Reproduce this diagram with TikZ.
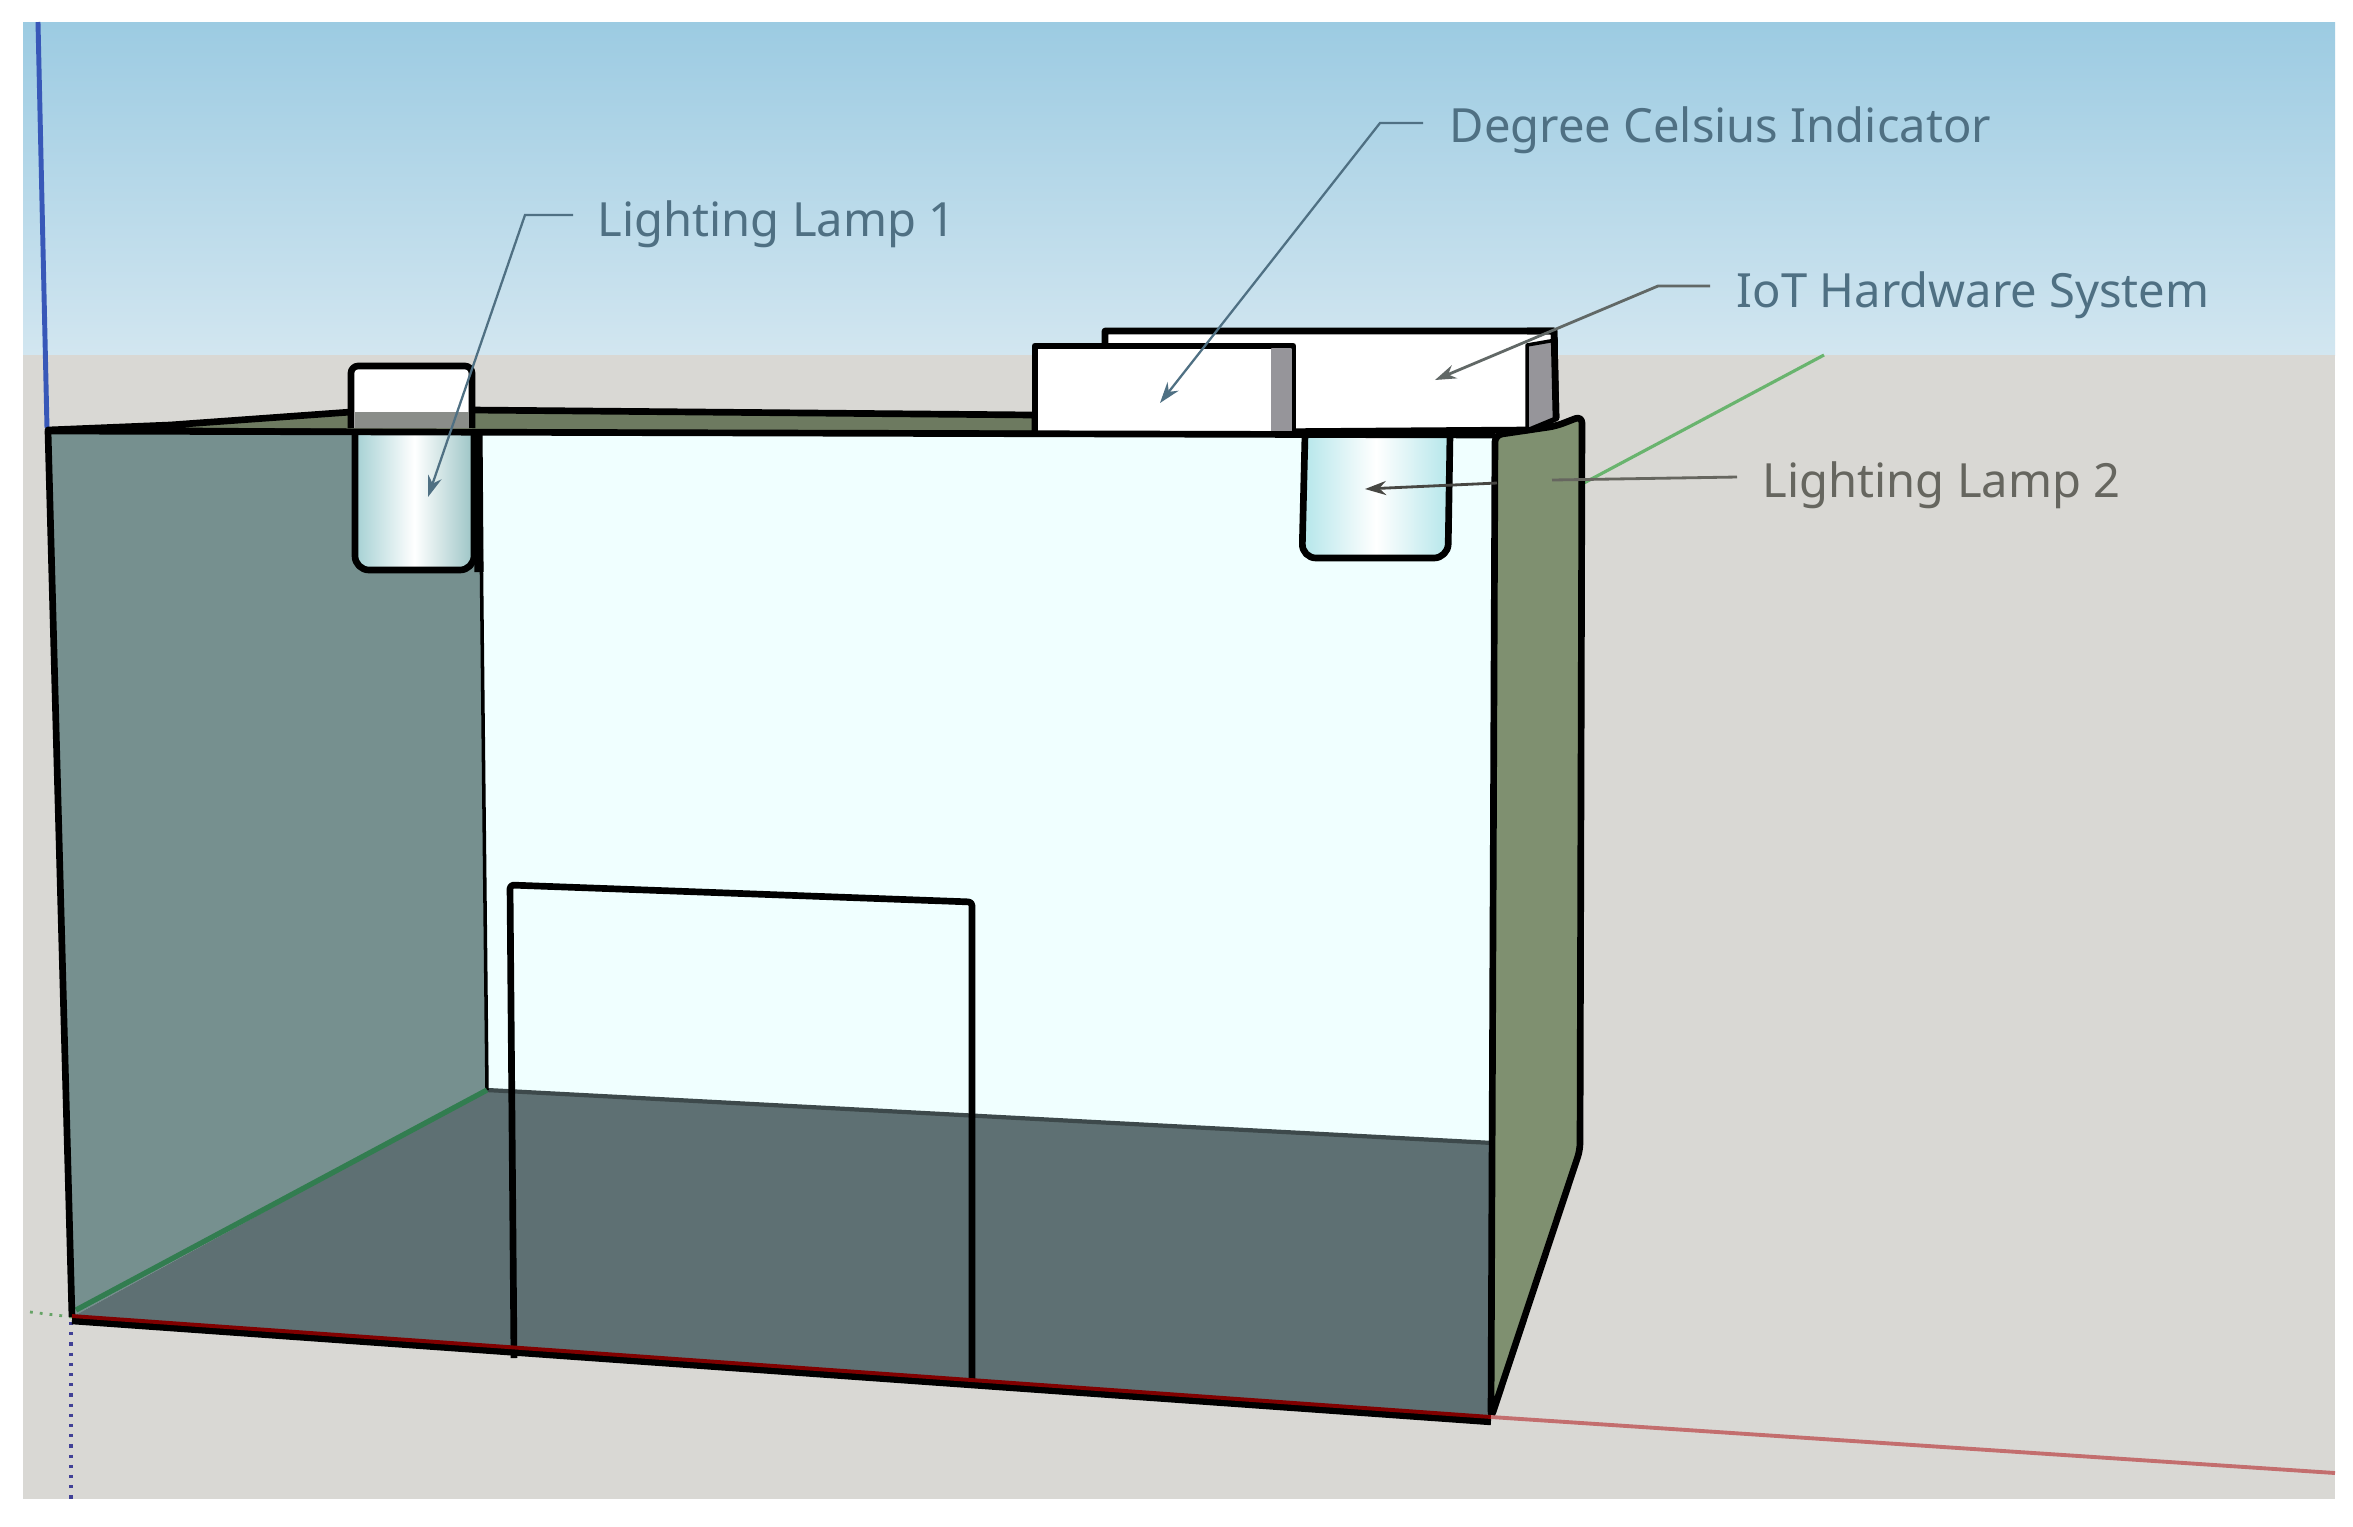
\documentclass[tikz,border=0pt]{standalone}
\usepackage{fontspec}
\setmainfont{Noto Sans}
\usetikzlibrary{arrows.meta,calc}
\definecolor{skytop}{HTML}{9CCBE2}
\definecolor{skylow}{HTML}{D2E6F0}
\definecolor{groundc}{HTML}{D9D8D4}
\definecolor{sidec}{HTML}{76908F}
\definecolor{wallc}{HTML}{F0FFFF}
\definecolor{floorc}{HTML}{5E7073}
\definecolor{olivec}{HTML}{7F9070}
\definecolor{stripc}{HTML}{6D7A60}
\definecolor{lampc}{HTML}{B4E6EA}
\definecolor{greyc}{HTML}{96959A}
\definecolor{skytext}{HTML}{4F7083}
\definecolor{groundtext}{HTML}{66665F}
\tikzset{
  edge/.style={draw=black,line width=1.9pt,line join=round},
  lbl/.style={anchor=west,inner sep=0pt,font=\fontsize{13.4}{16}\selectfont},
  leader/.style={line width=0.65pt,draw=skytext},
  tip/.style={-{Stealth[length=6pt,width=4pt]}}
}
\begin{document}
\begin{tikzpicture}[x=0.01cm,y=-0.01cm]
  \useasboundingbox (0,0) rectangle (2353,1526);
  \fill[white] (0,0) rectangle (2353,1526);
  % background
  \shade[top color=skytop,bottom color=skylow] (23,22) rectangle (2335,355);
  \fill[groundc] (23,355) rectangle (2335,1499);
  \draw[color={rgb,255:red,56;green,88;blue,184},line width=1.4pt] (38,22) -- (47,428);
  \draw[color={rgb,255:red,105;green,180;blue,110},line width=0.9pt] (1582,484) -- (1824,355);
  \draw[blue!45!black!75,line width=0.9pt,dotted] (71,1322) -- (71,1499);
  \draw[green!40!black!60,line width=0.8pt,dotted] (30,1312) -- (72,1317);
  % top of the box
  \filldraw[edge,fill=stripc] (48,430) -- (170,425) -- (351,412) -- (472,410) -- (1035,415)
    -- (1035,434) -- (480,433) -- cycle;
  % lamp 1, upper part
  \filldraw[edge,fill=white,rounded corners=2pt] (351,428) -- (351,366) -- (472,366) -- (472,428);
  \fill[greyc!70!stripc] (355,412) rectangle (469,428);
  % walls
  \fill[sidec] (48,431) -- (480,433) -- (487,1090) -- (72,1317) -- cycle;
  \fill[wallc] (480,433) -- (1495,435) -- (1493,1143) -- (487,1090) -- cycle;
  \fill[floorc] (487,1090) -- (1493,1143) -- (1491,1418) -- (72,1317) -- cycle;
  \draw[line width=1.2pt,draw=floorc!65!black] (487,1090) -- (1493,1143);
  \draw[edge,line width=1pt] (480,433) -- (487,1090);
  \draw[color={rgb,255:red,50;green,125;blue,80},line width=1.5pt] (76,1310) -- (487,1090);
  \filldraw[edge,fill=olivec,rounded corners=2pt] (1495,435) -- (1556,426) -- (1582,416) -- (1580,1150)
    -- (1491,1418) -- cycle;
  % lamps
  \filldraw[edge,left color=lampc!75!sidec,right color=lampc!60!sidec,middle color=white,rounded corners=4pt]
    (355,435) -- (355,570) -- (474,570) -- (474,435);
  \draw[edge,line width=2.6pt] (478,433) -- (479,572);
  \filldraw[edge,left color=lampc,right color=lampc,middle color=white,rounded corners=4pt]
    (1305,435) -- (1302,558) -- (1448,558) -- (1450,435);
  % boxes on top
  \filldraw[edge,fill=white] (1105,433) -- (1105,331) -- (1554,331) -- (1556,418) -- (1527,430) -- cycle;
  \filldraw[edge,line width=1pt,fill=greyc] (1527,345) -- (1556,340) -- (1556,418) -- (1527,430) -- cycle;
  \draw[edge] (1527,331) -- (1554,331) -- (1556,418);
  \filldraw[edge,fill=white] (1035,434) rectangle (1293,346);
  \filldraw[edge,line width=0.5pt,fill=greyc,draw=greyc] (1272,349) rectangle (1291,432);
  \draw[edge] (48,431) -- (1495,435);
  % door
  \draw[edge,rounded corners=1pt] (514,1358) -- (510,885) -- (972,902) -- (972,1386);
  % base
  \draw[edge] (48,431) -- (72,1317);
  \draw[black,line width=2.4pt] (72,1320) -- (1491,1421);
  \draw[red!50!black,line width=1.1pt] (72,1316) -- (1491,1417);
  \draw[color={rgb,255:red,195;green,110;blue,110},line width=1.1pt] (1491,1417) -- (2335,1473);
  % labels
  \node[lbl,text=skytext] (lamponelbl) at (597,224) {Lighting Lamp 1};
  \node[lbl,text=skytext] (degreelbl) at (1449,130) {Degree Celsius Indicator};
  \node[lbl,text=skytext] (iotlbl) at (1736,295) {IoT Hardware System};
  \node[lbl,text=groundtext] (lamptwolbl) at (1762,485) {Lighting Lamp 2};
  \coordinate (lamponetip) at (428,497);
  \coordinate (degreetip) at (1160,403);
  \coordinate (iottip) at (1435,380);
  \coordinate (lamptwotip) at (1365,489);
  \coordinate (lamptwogap) at (1552,480);
  \coordinate (lamptworesume) at (1497,483);
  % leaders
  \draw[leader,tip] ($(lamponelbl.west)+(-24,-9)$) -- (525,215) -- (lamponetip);
  \draw[leader,tip] ($(degreelbl.west)+(-26,-7)$) -- (1380,123) -- (degreetip);
  \draw[leader,draw=groundtext!80!skytext,line width=0.8pt,tip] ($(iotlbl.west)+(-26,-9)$) -- (1658,286) -- (iottip);
  \draw[leader,draw=groundtext,line width=0.8pt] ($(lamptwolbl.west)+(-25,-8)$) -- (lamptwogap);
  \draw[leader,draw=groundtext!70!black,line width=0.8pt,tip] (lamptworesume) -- (lamptwotip);
\end{tikzpicture}
\end{document}
